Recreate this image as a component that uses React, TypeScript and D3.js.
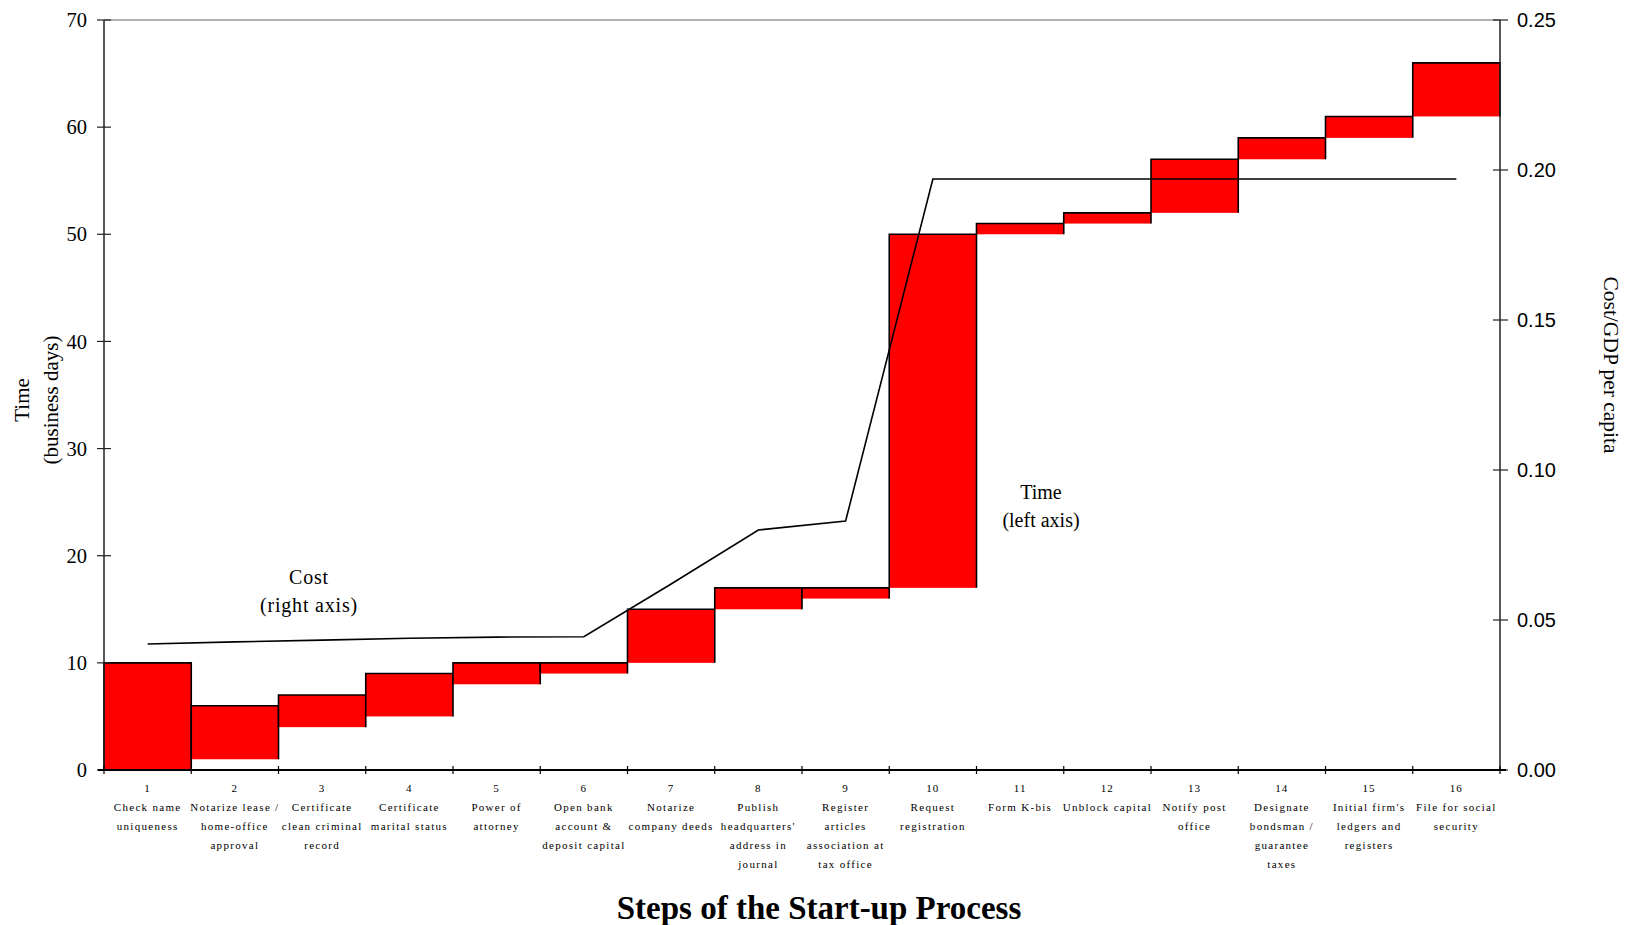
import React from 'react';
import * as d3 from 'd3';

// Start-up steps (numbered on the axis)
const stepNumbers: string[] = ['1', '2', '3', '4', '5', '6', '7', '8', '9', '10', '11', '12', '13', '14', '15', '16'];

const stepLabels: string[][] = [
    ['Check name', 'uniqueness'],
    ['Notarize lease /', 'home-office', 'approval'],
    ['Certificate', 'clean criminal', 'record'],
    ['Certificate', 'marital status'],
    ['Power of', 'attorney'],
    ['Open bank', 'account &', 'deposit capital'],
    ['Notarize', 'company deeds'],
    ['Publish', "headquarters'", 'address in', 'journal'],
    ['Register', 'articles', 'association at', 'tax office'],
    ['Request', 'registration'],
    ['Form K-bis'],
    ['Unblock capital'],
    ['Notify post', 'office'],
    ['Designate', 'bondsman /', 'guarantee', 'taxes'],
    ["Initial firm's", 'ledgers and', 'registers'],
    ['File for social', 'security'],
];

// Time (business days): start and end of each step
const timeStart: number[] = [0, 1, 4, 5, 8, 9, 10, 15, 16, 17, 50, 51, 52, 57, 59, 61];
const timeEnd: number[] = [10, 6, 7, 9, 10, 10, 15, 17, 17, 50, 51, 52, 57, 59, 61, 66];

// Cumulative cost / GDP per capita
const costValues: number[] = [0.042, 0.0427, 0.0433, 0.0439, 0.0443, 0.0444, 0.062, 0.08, 0.083, 0.197, 0.197, 0.197, 0.197, 0.197, 0.197, 0.197];

const leftTicks: number[] = [0, 10, 20, 30, 40, 50, 60, 70];
const rightTicks: number[] = [0, 0.05, 0.1, 0.15, 0.2, 0.25];

const serif = '"Liberation Serif", "Times New Roman", serif';
const sans = '"Liberation Sans", Arial, sans-serif';

const App: React.FC = () => {
    const width = 1625;
    const height = 925;
    const margin = { top: 20, right: 125, bottom: 155, left: 104 };
    const x0 = margin.left;
    const x1 = width - margin.right;
    const yBottom = height - margin.bottom;
    const yTop = margin.top;

    const xScale = d3.scaleBand<string>()
        .domain(stepNumbers)
        .range([x0, x1])
        .padding(0);

    const yLeft = d3.scaleLinear().domain([0, 70]).range([yBottom, yTop]);
    const yRight = d3.scaleLinear().domain([0, 0.25]).range([yBottom, yTop]);

    const costLine = d3.line<number>()
        .x((_, i) => (xScale(stepNumbers[i]) as number) + xScale.bandwidth() / 2)
        .y(d => yRight(d));

    const bw = xScale.bandwidth();

    return (
        <svg width={width} height={height} style={{ position: 'absolute', left: 0, top: 0, background: '#fff' }}>
            {/* plot frame top */}
            <line x1={x0} x2={x1} y1={yTop} y2={yTop} stroke="#999" strokeWidth={1.5} />

            {/* time bars */}
            {stepNumbers.map((s, i) => {
                const bx = xScale(s) as number;
                const top = yLeft(timeEnd[i]);
                const bot = yLeft(timeStart[i]);
                return (
                    <g key={s}>
                        <rect x={bx} y={top} width={bw} height={bot - top} fill="#ff0000" />
                        <path
                            d={`M${bx},${bot}V${top}H${bx + bw}V${bot}`}
                            fill="none"
                            stroke="#000"
                            strokeWidth={1.6}
                        />
                    </g>
                );
            })}

            {/* cost line */}
            <path d={costLine(costValues) || ''} fill="none" stroke="#000" strokeWidth={1.6} />

            {/* left axis */}
            <line x1={x0} x2={x0} y1={yTop} y2={yBottom} stroke="#222" strokeWidth={1.5} />
            {leftTicks.map(t => (
                <g key={`l${t}`}>
                    <line x1={x0 - 7} x2={x0 + 7} y1={yLeft(t)} y2={yLeft(t)} stroke="#222" strokeWidth={1.2} />
                    <text x={x0 - 17} y={yLeft(t)} dy="0.35em" textAnchor="end"
                        fontFamily={serif} fontSize={20.5} fill="#000">{t}</text>
                </g>
            ))}

            {/* right axis */}
            <line x1={x1} x2={x1} y1={yTop} y2={yBottom} stroke="#222" strokeWidth={1.5} />
            {rightTicks.map(t => (
                <g key={`r${t}`}>
                    <line x1={x1 - 7} x2={x1 + 8} y1={yRight(t)} y2={yRight(t)} stroke="#222" strokeWidth={1.2} />
                    <text x={x1 + 17} y={yRight(t)} dy="0.35em" textAnchor="start"
                        fontFamily={sans} fontSize={20} fill="#000">{t.toFixed(2)}</text>
                </g>
            ))}

            {/* bottom axis */}
            <line x1={x0 - 6} x2={x1 + 6} y1={yBottom} y2={yBottom} stroke="#000" strokeWidth={2} />
            {stepNumbers.map((s, i) => {
                const bx = xScale(s) as number;
                const cx = bx + bw / 2;
                return (
                    <g key={`x${s}`}>
                        <line x1={bx} x2={bx} y1={yBottom - 4} y2={yBottom + 4} stroke="#000" strokeWidth={1.2} />
                        <text x={cx} y={yBottom + 22} textAnchor="middle"
                            fontFamily={serif} fontSize={11} letterSpacing={1.2} fill="#000">{s}</text>
                        {stepLabels[i].map((ln, j) => (
                            <text key={j} x={cx} y={yBottom + 41 + j * 19} textAnchor="middle"
                                fontFamily={serif} fontSize={11} letterSpacing={1.3} fill="#000">{ln}</text>
                        ))}
                    </g>
                );
            })}
            <line x1={x1} x2={x1} y1={yBottom - 4} y2={yBottom + 4} stroke="#000" strokeWidth={1.2} />

            {/* axis titles */}
            <text transform={`translate(29,${(yTop + yBottom) / 2 + 5}) rotate(-90)`} textAnchor="middle"
                fontFamily={serif} fontSize={21} fill="#000">
                <tspan x={0} dy="0">Time</tspan>
                <tspan x={0} dy="1.4em">(business days)</tspan>
            </text>
            <text transform={`translate(1604,${(yTop + yBottom) / 2 - 30}) rotate(90)`} textAnchor="middle"
                fontFamily={serif} fontSize={21.5} fill="#000">Cost/GDP per capita</text>

            {/* annotations */}
            <text textAnchor="middle" fontFamily={serif} fontSize={20} letterSpacing={0.8} fill="#000">
                <tspan x={309} y={584}>Cost</tspan>
                <tspan x={309} y={612}>(right axis)</tspan>
            </text>
            <text textAnchor="middle" fontFamily={serif} fontSize={20} fill="#000">
                <tspan x={1041} y={499}>Time</tspan>
                <tspan x={1041} y={527}>(left axis)</tspan>
            </text>

            {/* chart title */}
            <text x={819} y={919} textAnchor="middle" fontFamily={serif} fontSize={33} fontWeight="bold" fill="#000">
                Steps of the Start-up Process
            </text>
        </svg>
    );
};

export default App;
